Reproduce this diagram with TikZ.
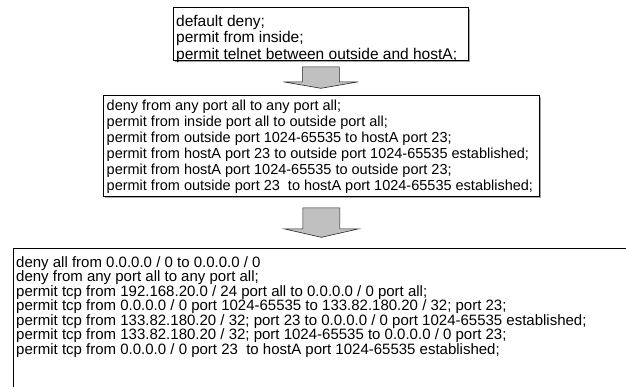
\documentclass[tikz,border=0pt]{standalone}
\usepackage{fontspec}
\setmainfont{Liberation Sans}
\usetikzlibrary{shadows,calc}
\definecolor{arrowgray}{RGB}{192,192,192}
\definecolor{shadowgray}{RGB}{165,165,165}
\begin{document}
\lineskiplimit=-20pt\relax
\begin{tikzpicture}[x=1pt,y=-1pt,
  box/.style={draw=black, line width=0.8pt, fill=white, inner sep=0pt, anchor=north west,
    drop shadow={shadow xshift=1.5pt, shadow yshift=-1.5pt, fill=shadowgray, opacity=1}},
  txt/.style={anchor=north west, inner sep=0pt, align=left, text=black},
  arrowline/.style={draw=black!85, line width=0.6pt, fill=arrowgray, line join=miter},
  pics/blockarrow/.style 2 args={code={
    \draw[arrowline] (-18.5,0) -- (18.5,0) -- (18.5,#1) -- (37.5,#1) -- (0,{#1+#2})
      -- (-37.5,#1) -- (-18.5,#1) -- cycle;}}]
\useasboundingbox (0,0) rectangle (626,386);

% box 1
\node[box, minimum width=295pt, minimum height=53pt] (box1) at (173,7) {};
\node[txt, font=\fontsize{15.5}{16.5}\selectfont] (t1) at (176,14)
  {\rule{0pt}{12pt}default deny;\\
   permit from inside;\\
   permit telnet between outside and hostA;};

% box 2
\node[box, minimum width=436pt, minimum height=101pt] (box2) at (103,95) {};
\node[txt, font=\fontsize{14.5}{16}\selectfont] (t2) at (106.5,98.5)
  {\rule{0pt}{11.5pt}deny from any port all to any port all;\\
   permit from inside port all to outside port all;\\
   permit from outside port 1024-65535 to hostA port 23;\\
   permit from hostA port 23 to outside port 1024-65535 established;\\
   permit from hostA port 1024-65535 to outside port 23;\\
   permit from outside port 23\ \ to hostA port 1024-65535 established;};

% box 3
\node[box, minimum width=640pt, minimum height=160pt] (box3) at (13,247.5) {};
\node[txt, font=\fontsize{15}{14.5}\selectfont] (t3) at (16,255.5)
  {\rule{0pt}{11.5pt}deny all from 0.0.0.0 / 0 to 0.0.0.0 / 0\\
   deny from any port all to any port all;\\
   permit tcp from 192.168.20.0 / 24 port all to 0.0.0.0 / 0 port all;\\
   permit tcp from 0.0.0.0 / 0 port 1024-65535 to 133.82.180.20 / 32; port 23;\\
   permit tcp from 133.82.180.20 / 32; port 23 to 0.0.0.0 / 0 port 1024-65535 established;\\
   permit tcp from 133.82.180.20 / 32; port 1024-65535 to 0.0.0.0 / 0 port 23;\\
   permit tcp from 0.0.0.0 / 0 port 23\ \ to hostA port 1024-65535 established;};

% block arrows
\coordinate (a1) at ($(box1.south)+(0,6)$);
\coordinate (a2) at ($(box2.south)+(0,11)$);
\pic at (a1) {blockarrow={15}{6.5}};
\pic at (a2) {blockarrow={21}{8.5}};
\end{tikzpicture}
\end{document}
